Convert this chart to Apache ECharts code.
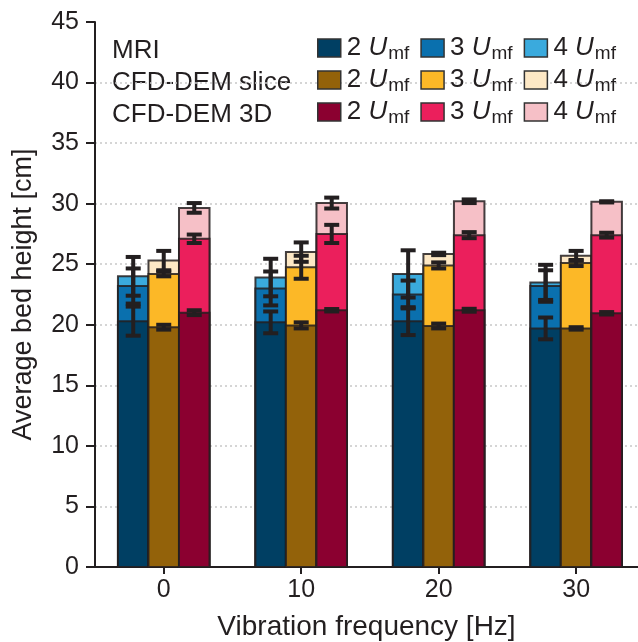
<!DOCTYPE html>
<html>
<head>
<meta charset="utf-8">
<script src="https://cdn.jsdelivr.net/npm/echarts@6/dist/echarts.min.js"></script>
<style>
  html, body { margin: 0; padding: 0; background: #fff; }
  #chart { width: 638px; height: 642px; }
</style>
</head>
<body>
<div id="chart"></div>
<script>
// data
var freqs = [0, 10, 20, 30];
var groupNames = ['MRI', 'CFD-DEM slice', 'CFD-DEM 3D'];
var levels = ['2', '3', '4'];

var mri2 = [20.3, 20.2, 20.3, 19.7];
var mri3 = [23.2, 23.0, 22.5, 23.2];
var mri4 = [24.0, 23.9, 24.2, 23.5];
var mri2Err = [1.2, 0.9, 1.15, 0.9];
var mri3Err = [1.45, 1.4, 1.15, 1.3];
var mri4Err = [1.6, 1.55, 1.95, 1.45];

var slice2 = [19.8, 19.95, 19.9, 19.7];
var slice3 = [24.2, 24.75, 24.9, 25.1];
var slice4 = [25.3, 26.0, 25.85, 25.7];
var slice2Err = [0.2, 0.25, 0.2, 0.1];
var slice3Err = [0.2, 0.95, 0.25, 0.25];
var slice4Err = [0.8, 0.8, 0.1, 0.4];

var d3d2 = [21.0, 21.2, 21.2, 20.95];
var d3d3 = [27.1, 27.5, 27.4, 27.4];
var d3d4 = [29.65, 30.05, 30.2, 30.15];
var d3d2Err = [0.2, 0.1, 0.12, 0.1];
var d3d3Err = [0.35, 0.75, 0.25, 0.2];
var d3d4Err = [0.4, 0.45, 0.15, 0.05];

var values = [[mri2, mri3, mri4], [slice2, slice3, slice4], [d3d2, d3d3, d3d4]];
var errors = [[mri2Err, mri3Err, mri4Err], [slice2Err, slice3Err, slice4Err], [d3d2Err, d3d3Err, d3d4Err]];
var colors = [
    ['#003f63', '#0a70ae', '#3aaadd'],
    ['#93620a', '#fcb827', '#fde8c5'],
    ['#8b0030', '#eb1f5c', '#f6c0c7']
];
var keys = ['MRI', 'slice', '3D'];

var textColor = '#231f20';
var fontName = 'Liberation Sans';
var barUnits = 2.22; // bar width in Hz

var chart = echarts.init(document.getElementById('chart'));

var series = [];
// 4U behind, then 3U, then 2U in front
for (var g = 0; g < 3; g++) {
    for (var l = 2; l >= 0; l--) {
        (function (g, l) {
            var data = [];
            for (var i = 0; i < freqs.length; i++) {
                data.push([freqs[i], values[g][l][i]]);
            }
            series.push({
                name: keys[g] + ' ' + levels[l],
                type: 'custom',
                clip: false,
                z: 2,
                itemStyle: { color: colors[g][l], borderColor: '#333', borderWidth: 1.5 },
                encode: { x: 0, y: 1 },
                data: data,
                renderItem: function (params, api) {
                    var x = api.value(0), v = api.value(1);
                    var top = api.coord([x, v]);
                    var base = api.coord([x, 0]);
                    var w = api.size([barUnits, 0])[0];
                    var cx = top[0] + (g - 1) * w;
                    return {
                        type: 'rect',
                        shape: { x: cx - w / 2, y: top[1], width: w, height: base[1] - top[1] },
                        style: { fill: colors[g][l], stroke: 'rgba(35,31,32,0.85)', lineWidth: 2 }
                    };
                }
            });
        })(g, l);
    }
}

// error bars
var errData = [];
for (var g2 = 0; g2 < 3; g2++) {
    for (var l2 = 0; l2 < 3; l2++) {
        for (var i2 = 0; i2 < freqs.length; i2++) {
            errData.push([freqs[i2], values[g2][l2][i2], errors[g2][l2][i2], g2]);
        }
    }
}
series.push({
    name: 'err',
    type: 'custom',
    clip: false,
    z: 5,
    encode: { x: 0, y: 1 },
    data: errData,
    renderItem: function (params, api) {
        var x = api.value(0), v = api.value(1), e = api.value(2), g = api.value(3);
        var hi = api.coord([x, v + e]);
        var lo = api.coord([x, v - e]);
        var w = api.size([barUnits, 0])[0];
        var cx = hi[0] + (g - 1) * w;
        var cap = 7.5;
        var st = { stroke: textColor, lineWidth: 4 };
        return {
            type: 'group',
            children: [
                { type: 'line', shape: { x1: cx, y1: hi[1], x2: cx, y2: lo[1] }, style: st },
                { type: 'line', shape: { x1: cx - cap, y1: hi[1], x2: cx + cap, y2: hi[1] }, style: st },
                { type: 'line', shape: { x1: cx - cap, y1: lo[1], x2: cx + cap, y2: lo[1] }, style: st }
            ]
        };
    }
});

var legendRows = [48, 80, 112];
var legends = [];
var graphics = [];
for (var r = 0; r < 3; r++) {
    legends.push({
        left: 317,
        top: legendRows[r] - 13,
        padding: 0,
        orient: 'horizontal',
        itemWidth: 23,
        itemHeight: 18,
        itemGap: 11,
        selectedMode: false,
        icon: 'rect',
        itemStyle: { borderColor: '#333', borderWidth: 1.5 },
        data: [keys[r] + ' 2', keys[r] + ' 3', keys[r] + ' 4'],
        formatter: function (name) {
            return name.split(' ')[1] + ' {u|U}{s|mf}';
        },
        textStyle: {
            color: textColor,
            fontSize: 26,
            fontFamily: fontName,
            padding: [0, 0, 0, 1],
            rich: {
                u: { fontSize: 26, fontStyle: 'italic', color: textColor, fontFamily: fontName },
                s: { fontSize: 19, color: textColor, fontFamily: fontName, padding: [11, 0, 0, 1] }
            }
        }
    });
    graphics.push({
        type: 'text',
        left: 112,
        top: legendRows[r] - 10,
        style: { text: groupNames[r], fill: textColor, fontSize: 26, fontFamily: fontName }
    });
}

var option = {
    animation: false,
    backgroundColor: '#fff',
    grid: { left: 95, right: 0, top: 22, bottom: 75, outerBoundsMode: 'none', containLabel: false },
    legend: legends,
    graphic: graphics,
    xAxis: {
        type: 'value',
        min: -5,
        max: 34.5,
        name: 'Vibration frequency [Hz]',
        nameLocation: 'middle',
        nameGap: 46,
        nameTextStyle: { color: textColor, fontSize: 28, fontFamily: fontName },
        axisLine: { lineStyle: { color: textColor, width: 2 } },
        axisTick: { customValues: freqs, length: 7, lineStyle: { color: textColor, width: 2 } },
        axisLabel: { customValues: freqs, color: textColor, fontSize: 25, margin: 11, fontFamily: fontName },
        splitLine: { show: false }
    },
    yAxis: {
        type: 'value',
        min: 0,
        max: 45,
        interval: 5,
        name: 'Average bed height [cm]',
        nameLocation: 'middle',
        nameGap: 58,
        nameTextStyle: { color: textColor, fontSize: 27, fontFamily: fontName },
        axisLine: { show: true, onZero: false, lineStyle: { color: textColor, width: 2 } },
        axisTick: { show: true, length: 9, lineStyle: { color: textColor, width: 2 } },
        axisLabel: { color: textColor, fontSize: 25, margin: 16, fontFamily: fontName },
        splitLine: { show: true, showMaxLine: false, lineStyle: { color: '#c8c8c8', type: [2, 3], width: 1.5 } }
    },
    series: series
};

chart.setOption(option);
</script>
</body>
</html>
